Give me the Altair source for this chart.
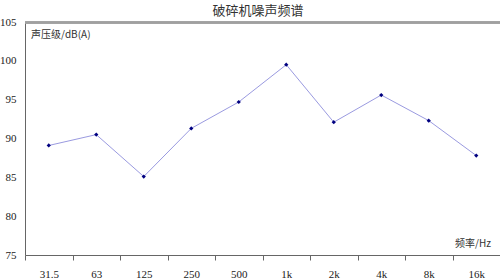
import altair as alt
import pandas as pd

freqs = ["31.5", "63", "125", "250", "500", "1k", "2k", "4k", "8k", "16k"]
levels = [89.1, 90.5, 85.1, 91.3, 94.7, 99.5, 92.1, 95.6, 92.3, 87.8]
y_ticks = [75, 80, 85, 90, 95, 100, 105]
title_text = "破碎机噪声频谱"
y_label = "声压级/dB(A)"
x_label = "频率/Hz"

df = pd.DataFrame({"freq": freqs, "level": levels})

x_enc = alt.X(
    "freq:N",
    sort=freqs,
    bandPosition=0.5,
    scale=alt.Scale(type="band", domain=freqs, paddingInner=0, paddingOuter=0),
    axis=alt.Axis(
        title=None, labelAngle=0, tickBand="extent", domainColor="#666",
        tickColor="#666", tickSize=5, labelPadding=8, labelFont="Liberation Serif",
        labelFontSize=11, labelColor="#222", grid=False, labelOverlap=False,
    ),
)
y_enc = alt.Y(
    "level:Q",
    scale=alt.Scale(domain=[75, 105], nice=False, zero=False),
    axis=alt.Axis(
        title=None, values=y_ticks, ticks=False, labelOverlap=False,
        domainColor="#666", labelPadding=9, labelFont="Liberation Serif",
        labelFontSize=11, labelColor="#222", grid=False,
    ),
)

base = alt.Chart(df)
top = base.mark_rule(color="#a0a0a0", strokeWidth=1.5).encode(
    x=alt.value(0), x2=alt.value(475), y=alt.value(0.5)
)
line = base.mark_line(color="#9a9ae0", strokeWidth=1).encode(x=x_enc, y=y_enc)
pts = base.mark_point(shape="diamond", filled=True, color="#000080", size=18, opacity=1).encode(x=x_enc, y=y_enc)

ttl = alt.Chart(pd.DataFrame({"t": [title_text]})).mark_text(
    align="center", baseline="middle", font="Noto Sans CJK SC", fontSize=13, color="#333"
).encode(x=alt.value(233), y=alt.value(-11), text="t:N")
ylab = alt.Chart(pd.DataFrame({"t": [y_label]})).mark_text(
    align="left", baseline="middle", font="Noto Sans CJK SC", fontSize=10, color="#333"
).encode(x=alt.value(6), y=alt.value(13), text="t:N")
xlab = alt.Chart(pd.DataFrame({"t": [x_label]})).mark_text(
    align="right", baseline="middle", font="Noto Sans CJK SC", fontSize=10, color="#333"
).encode(x=alt.value(466), y=alt.value(222), text="t:N")

chart = alt.layer(line, pts, top, ttl, ylab, xlab).properties(
    width=475, height=233,
    padding={"left": 25, "top": 22, "right": 0, "bottom": 25},
    autosize=alt.AutoSizeParams(type="none"),
).configure_view(stroke=None, clip=False).configure(background="white")

chart.save("out.html", embed_options={"renderer": "svg", "actions": False})
